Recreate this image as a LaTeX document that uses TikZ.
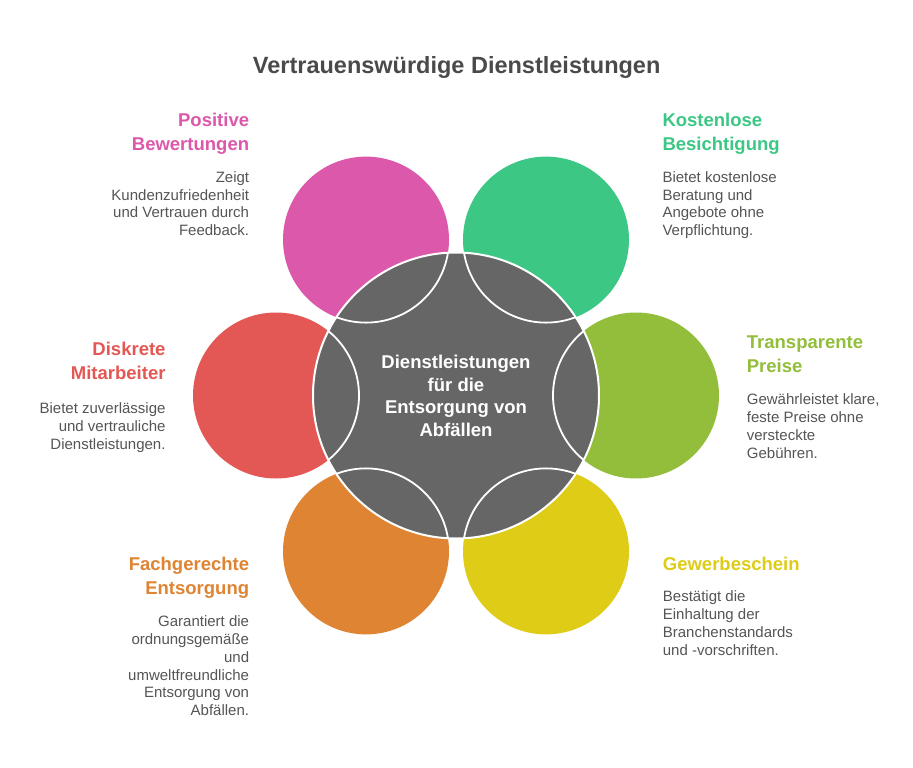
\documentclass[tikz,border=0pt]{standalone}
\usepackage{fontspec}
\setmainfont{Liberation Sans}
\usetikzlibrary{calc}
\definecolor{cpink}{HTML}{DC58AA}
\definecolor{cgreen}{HTML}{3DC785}
\definecolor{clime}{HTML}{93BE3B}
\definecolor{cyellow}{HTML}{DECC16}
\definecolor{corange}{HTML}{DF8432}
\definecolor{cred}{HTML}{E35854}
\definecolor{cgray}{HTML}{666666}
\definecolor{ctext}{HTML}{555555}
\definecolor{ctitle}{HTML}{4A4A4A}
\tikzset{
  petal/.style={circle, inner sep=0pt, minimum size=166pt},
  hub/.style={circle, inner sep=0pt, minimum size=286pt, fill=cgray, draw=white, line width=2pt},
  headfont/.style={font=\bfseries\fontsize{18.5}{24}\selectfont},
  descfont/.style={font=\fontsize{15}{17.8}\selectfont, text=ctext},
  rblock/.style={anchor=base east, align=right, inner sep=0pt},
  lblock/.style={anchor=base west, align=left, inner sep=0pt},
  arcline/.style={draw=white, line width=1.8pt},
}
\begin{document}
\begin{tikzpicture}[x=1pt,y=-1pt]
\useasboundingbox (0,0) rectangle (913,768);
\fill[white] (0,0) rectangle (913,768);
\coordinate (C) at (456,395.5);
% petals
\node[petal, fill=cpink]   (pink)   at ($(C)+(240:180)$) {};
\node[petal, fill=cgreen]  (green)  at ($(C)+(300:180)$) {};
\node[petal, fill=clime]   (lime)   at ($(C)+(0:180)$) {};
\node[petal, fill=cyellow] (yellow) at ($(C)+(60:180)$) {};
\node[petal, fill=corange] (orange) at ($(C)+(120:180)$) {};
\node[petal, fill=cred]    (red)    at ($(C)+(180:180)$) {};
% hub
\node[hub] (hubc) at (C) {};
\begin{scope}
  \clip (hubc.center) circle[radius=143pt];
  \foreach \p in {pink,green,lime,yellow,orange,red}{
    \draw[arcline] (\p.center) circle[radius=83pt];
  }
\end{scope}
\node[anchor=base, align=center, inner sep=0pt, text=white,
      font=\bfseries\fontsize{18.5}{22.8}\selectfont] (hubtext) at (456,436.7)
  {Dienstleistungen\\für die\\Entsorgung von\\Abfällen};
% title
\node[anchor=base, inner sep=0pt, text=ctitle, font=\bfseries\fontsize{23.5}{28}\selectfont]
  (title) at (456.7,73.3) {Vertrauenswürdige Dienstleistungen};
% pink
\node[rblock, headfont, text=cpink] (pinkh) at (249.3,150.7) {Positive\\Bewertungen};
\node[rblock, descfont] (pinkd) at (249.3,235.7) {Zeigt\\Kundenzufriedenheit\\und Vertrauen durch\\Feedback.};
% green
\node[lblock, headfont, text=cgreen] (greenh) at (662.3,150.7) {Kostenlose\\Besichtigung};
\node[lblock, descfont] (greend) at (662.3,235.7) {Bietet kostenlose\\Beratung und\\Angebote ohne\\Verpflichtung.};
% red
\node[rblock, headfont, text=cred] (redh) at (165.7,379.3) {Diskrete\\Mitarbeiter};
\node[rblock, descfont] (redd) at (165.7,449) {Bietet zuverlässige\\und vertrauliche\\Dienstleistungen.};
% lime
\node[lblock, headfont, text=clime] (limeh) at (746.7,372.7) {Transparente\\Preise};
\node[lblock, descfont] (limed) at (746.7,458.3) {Gewährleistet klare,\\feste Preise ohne\\versteckte\\Gebühren.};
% orange
\node[rblock, headfont, text=corange] (orangeh) at (249.3,594.3) {Fachgerechte\\Entsorgung};
\node[rblock, descfont] (oranged) at (249.3,715.7) {Garantiert die\\ordnungsgemäße\\und\\umweltfreundliche\\Entsorgung von\\Abfällen.};
% yellow
\node[lblock, headfont, text=cyellow] (yellowh) at (662.7,570.7) {Gewerbeschein};
\node[lblock, descfont] (yellowd) at (662.7,655) {Bestätigt die\\Einhaltung der\\Branchenstandards\\und -vorschriften.};
\end{tikzpicture}
\end{document}
